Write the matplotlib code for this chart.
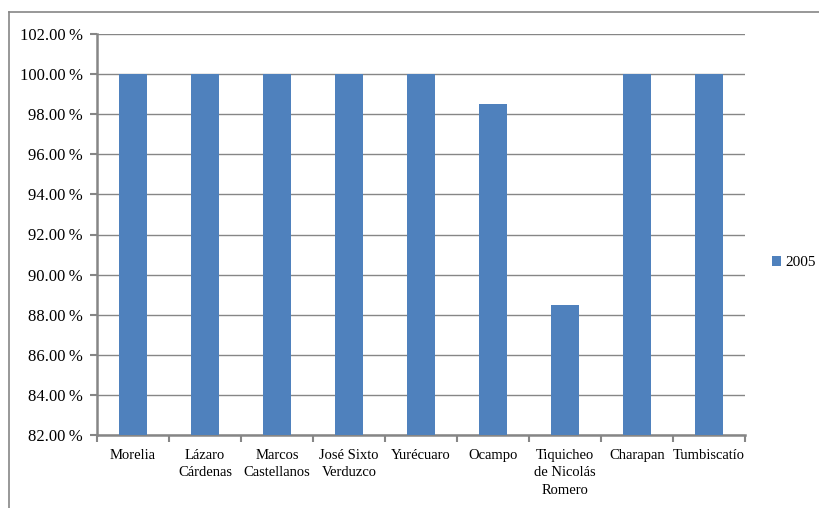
import matplotlib
matplotlib.use('Agg')
import matplotlib.pyplot as plt
from matplotlib.lines import Line2D
from matplotlib.ticker import FuncFormatter, MultipleLocator

municipios = ['Morelia', 'Lázaro\nCárdenas', 'Marcos\nCastellanos', 'José Sixto\nVerduzco',
              'Yurécuaro', 'Ocampo', 'Tiquicheo\nde Nicolás\nRomero', 'Charapan', 'Tumbiscatío']
valores_2005 = [100.0, 100.0, 100.0, 100.0, 100.0, 98.5, 88.5, 100.0, 100.0]

plt.rcParams['font.family'] = ['Liberation Serif', 'DejaVu Serif']

W, H = 820, 508
fig = plt.figure(figsize=(W / 100, H / 100), dpi=100)
ax = fig.add_axes([97 / W, 1 - 435 / H, (745 - 97) / W, (435 - 34) / H])

gris = '#868686'
x = range(len(municipios))
ax.bar(x, valores_2005, width=0.4, color='#4F81BD', label='2005', zorder=3)

ax.set_ylim(82, 102)
ax.set_xlim(-0.5, len(municipios) - 0.5)
ax.yaxis.set_major_locator(MultipleLocator(2))
ax.yaxis.set_major_formatter(FuncFormatter(lambda v, p: f'{v:.2f}\u2009%'))
ax.grid(axis='y', color=gris, linewidth=1, zorder=0)

ax.set_xticks(list(x))
ax.set_xticklabels(municipios, fontsize=10.5, linespacing=1.45, va='top')
ax.set_xticks([i - 0.5 for i in range(len(municipios) + 1)], minor=True)
ax.tick_params(axis='x', which='major', length=0, pad=10)
ax.tick_params(axis='x', which='minor', length=5, color=gris, width=1.5, direction='out')
ax.tick_params(axis='y', length=5, color=gris, width=1.5, labelsize=12, pad=5)

for s in ['top', 'right']:
    ax.spines[s].set_visible(False)
for s in ['left', 'bottom']:
    ax.spines[s].set_color(gris)
    ax.spines[s].set_linewidth(1.8)

ax.legend(loc='center left', bbox_to_anchor=(1.02, 0.43), frameon=False, fontsize=11,
          handlelength=0.6, handleheight=0.6, handletextpad=0.3)

# borde del area del grafico (recortado a la derecha y abajo)
fig.add_artist(Line2D([9 / W, 9 / W], [0, 1 - 12 / H], color=gris, linewidth=1.2))
fig.add_artist(Line2D([9 / W, 1], [1 - 12 / H, 1 - 12 / H], color=gris, linewidth=1.2))

fig.savefig('out.png', dpi=100)
